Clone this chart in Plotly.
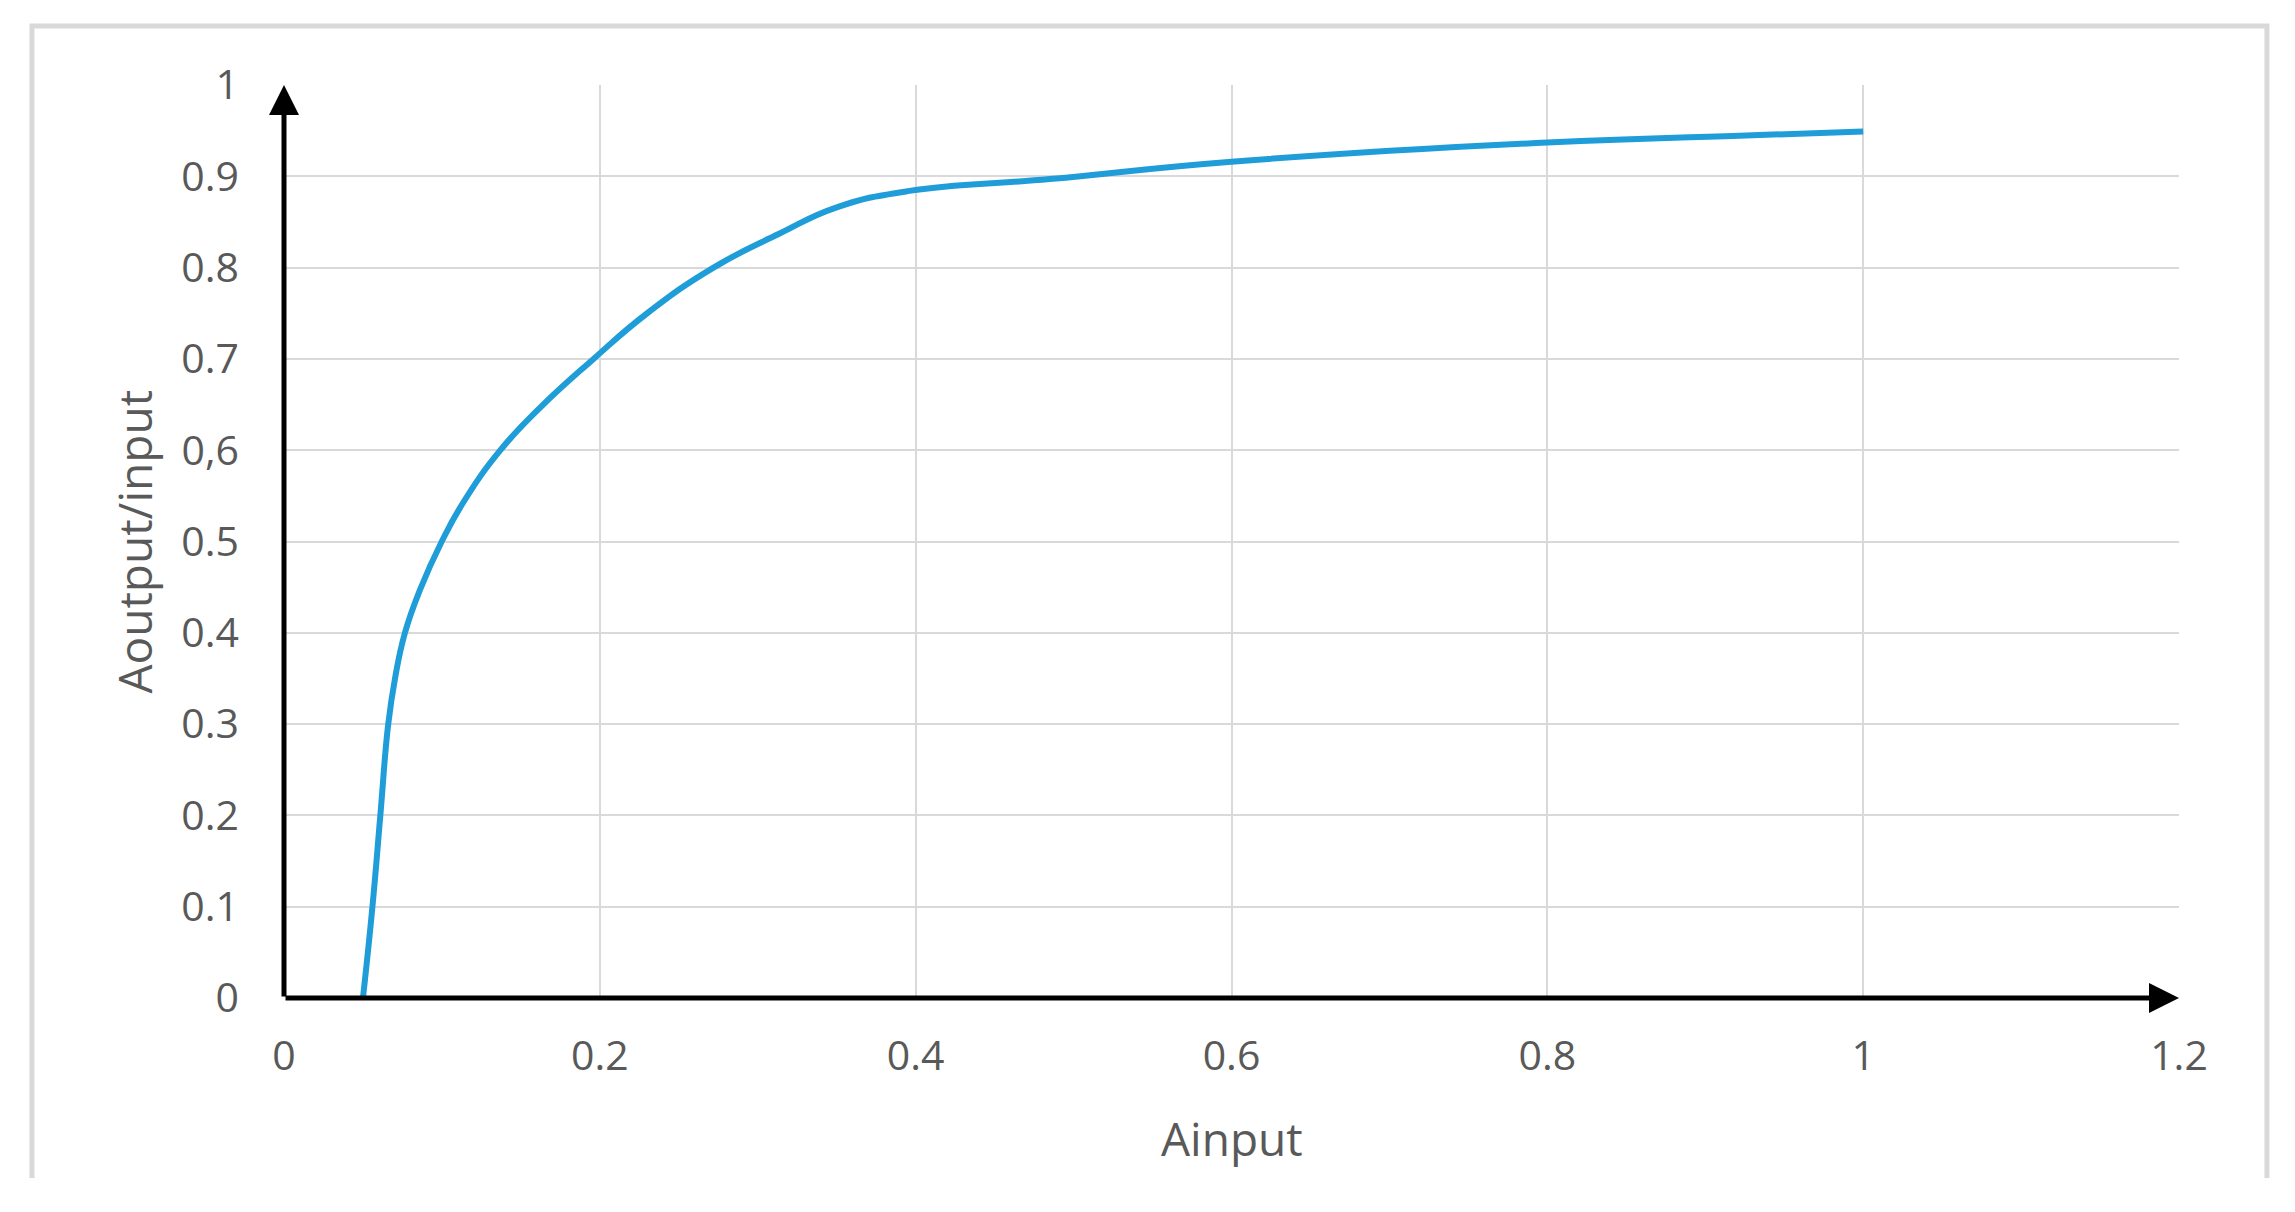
import plotly.graph_objects as go

# Curve data
a_input = [0.050, 0.056, 0.061, 0.066, 0.0703, 0.0766, 0.0861, 0.0999, 0.1136, 0.137,
           0.163, 0.196, 0.230, 0.272, 0.3135, 0.350, 0.396, 0.485,
           0.600, 0.800, 0.930, 1.000]
a_ratio = [0.000, 0.100, 0.200, 0.300, 0.350, 0.400, 0.447, 0.500, 0.543, 0.600,
           0.648, 0.700, 0.750, 0.800, 0.837, 0.866, 0.884, 0.897,
           0.916, 0.937, 0.945, 0.949]

x_tick_vals = [0, 0.2, 0.4, 0.6, 0.8, 1.0, 1.2]
x_tick_text = ["0", "0.2", "0.4", "0.6", "0.8", "1", "1.2"]
y_tick_vals = [0, 0.1, 0.2, 0.3, 0.4, 0.5, 0.6, 0.7, 0.8, 0.9, 1.0]
y_tick_text = ["0", "0.1", "0.2", "0.3", "0.4", "0.5", "0,6", "0.7", "0.8", "0.9", "1"]

x_title = "Ainput"
y_title = "Aoutput/input"

TEXT = "#595959"
GRID = "#d9d9d9"
FONT = "Open Sans"

fig = go.Figure()
fig.add_trace(go.Scatter(
    x=a_input, y=a_ratio, mode="lines",
    line=dict(color="#1f9dd9", width=6, shape="spline", smoothing=1.3),
    showlegend=False, hoverinfo="skip"))

fig.update_layout(
    width=2295, height=1212,
    margin=dict(l=276, r=124, t=77, b=222, autoexpand=False),
    paper_bgcolor="white", plot_bgcolor="white",
    font=dict(family=FONT, color=TEXT, size=41),
    xaxis=dict(range=[0, 1.2], tickvals=x_tick_vals, ticktext=x_tick_text,
               showgrid=True, gridcolor=GRID, gridwidth=2, zeroline=False,
               showline=False, ticks="", ticklabelstandoff=30,
               tickfont=dict(family=FONT, size=41, color=TEXT)),
    yaxis=dict(range=[0, 1.0], tickvals=y_tick_vals, ticktext=y_tick_text,
               showgrid=True, gridcolor=GRID, gridwidth=2, zeroline=False,
               showline=False, ticks="", ticklabelstandoff=44,
               tickfont=dict(family=FONT, size=41, color=TEXT)),
)

# Axis arrows
fig.add_annotation(x=1.2, y=0, ax=0, ay=0, xref="x", yref="y", axref="x", ayref="y",
                   text="", showarrow=True, arrowhead=2, arrowwidth=5, arrowsize=1.2,
                   arrowcolor="black", standoff=0, startstandoff=0)
fig.add_annotation(x=0, y=1.0, ax=0, ay=0, xref="x", yref="y", axref="x", ayref="y",
                   text="", showarrow=True, arrowhead=2, arrowwidth=5, arrowsize=1.2,
                   arrowcolor="black", standoff=0, startstandoff=0)

# Axis titles
fig.add_annotation(text=x_title, xref="paper", yref="paper", x=0.5, y=-0.153,
                   xanchor="center", yanchor="middle", showarrow=False,
                   font=dict(family=FONT, size=46, color=TEXT))
fig.add_annotation(text=y_title, xref="paper", yref="paper", x=0, y=0.5,
                   xshift=-151, xanchor="center", yanchor="middle", showarrow=False,
                   textangle=-90, font=dict(family=FONT, size=46, color=TEXT))

# Outer chart border (left, top, right)
fig.add_shape(type="path", xref="paper", yref="paper",
              path="M -0.1330,-0.1972 L -0.1330,1.0646 L 1.0464,1.0646 L 1.0464,-0.1972",
              line=dict(color=GRID, width=5), layer="below")

fig.write_html("out.html")
